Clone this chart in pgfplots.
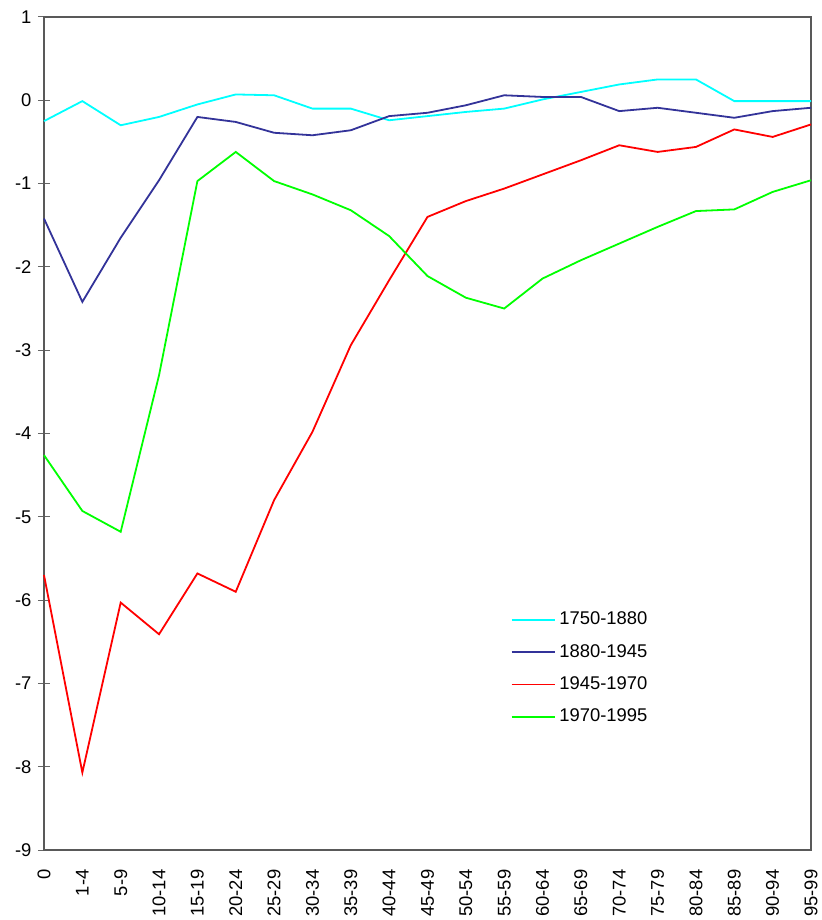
\documentclass[border=0pt]{standalone}
\usepackage{pgfplots}
\pgfplotsset{compat=1.18}
\usepackage{fontspec}
\setmainfont{Liberation Sans}
\definecolor{cy}{RGB}{0,255,255}
\definecolor{nv}{RGB}{51,51,153}
\definecolor{rd}{RGB}{255,0,0}
\definecolor{gr}{RGB}{0,255,0}
\begin{document}
\fontsize{9.2}{11}\selectfont
\begin{tikzpicture}
\useasboundingbox (-22pt,-35pt) rectangle (388.5pt,425pt);
\begin{axis}[
  at={(0,0)}, anchor=south west,
  scale only axis, width=383.5pt, height=416.5pt,
  xmin=0, xmax=20, ymin=-9, ymax=1,
  xtick={0,...,20},
  xticklabels={0,1-4,5-9,10-14,15-19,20-24,25-29,30-34,35-39,40-44,45-49,50-54,55-59,60-64,65-69,70-74,75-79,80-84,85-89,90-94,95-99},
  ytick={-9,...,1},
  xticklabel style={rotate=90, anchor=east, font=\fontsize{9.2}{11}\selectfont},
  yticklabel style={font=\fontsize{9.2}{11}\selectfont},
  xticklabel shift=3.5pt,
  /pgf/number format/assume math mode=true,
  x tick style={draw=none},
  y tick style={gray!80!black, line width=0.5pt},
  ytick pos=left, xtick pos=bottom,
  tick align=center, major tick length=6pt,
  axis line style={gray!70!black, line width=0.6pt},
  clip=false,
  legend style={at={(rel axis cs:0.60,0.296)}, anchor=north west, draw=none, fill=none, row sep=4.4pt, font=\fontsize{9.2}{11}\selectfont},
  legend cell align=left,
  legend image code/.code={\draw[#1] (0pt,0pt) -- (21.5pt,0pt);},
  every axis plot/.append style={line width=0.9pt, mark=none},
]
\addplot[cy] coordinates {(0,-0.25) (1,-0.01) (2,-0.30) (3,-0.20) (4,-0.05) (5,0.07) (6,0.06) (7,-0.10) (8,-0.10) (9,-0.24) (10,-0.19) (11,-0.14) (12,-0.10) (13,0.01) (14,0.10) (15,0.19) (16,0.25) (17,0.25) (18,-0.01) (19,-0.01) (20,-0.01)};
\addlegendentry{1750-1880}
\addplot[nv] coordinates {(0,-1.42) (1,-2.42) (2,-1.65) (3,-0.96) (4,-0.20) (5,-0.26) (6,-0.39) (7,-0.42) (8,-0.36) (9,-0.19) (10,-0.15) (11,-0.06) (12,0.06) (13,0.04) (14,0.04) (15,-0.13) (16,-0.09) (17,-0.15) (18,-0.21) (19,-0.13) (20,-0.09)};
\addlegendentry{1880-1945}
\addplot[rd] coordinates {(0,-5.70) (1,-8.07) (2,-6.03) (3,-6.41) (4,-5.68) (5,-5.90) (6,-4.80) (7,-3.98) (8,-2.94) (9,-2.16) (10,-1.40) (11,-1.21) (12,-1.06) (13,-0.89) (14,-0.72) (15,-0.54) (16,-0.62) (17,-0.56) (18,-0.35) (19,-0.44) (20,-0.29)};
\addlegendentry{1945-1970}
\addplot[gr] coordinates {(0,-4.26) (1,-4.93) (2,-5.18) (3,-3.30) (4,-0.97) (5,-0.62) (6,-0.97) (7,-1.13) (8,-1.32) (9,-1.63) (10,-2.11) (11,-2.37) (12,-2.50) (13,-2.14) (14,-1.92) (15,-1.72) (16,-1.52) (17,-1.33) (18,-1.31) (19,-1.10) (20,-0.96)};
\addlegendentry{1970-1995}
\end{axis}
\end{tikzpicture}
\end{document}
